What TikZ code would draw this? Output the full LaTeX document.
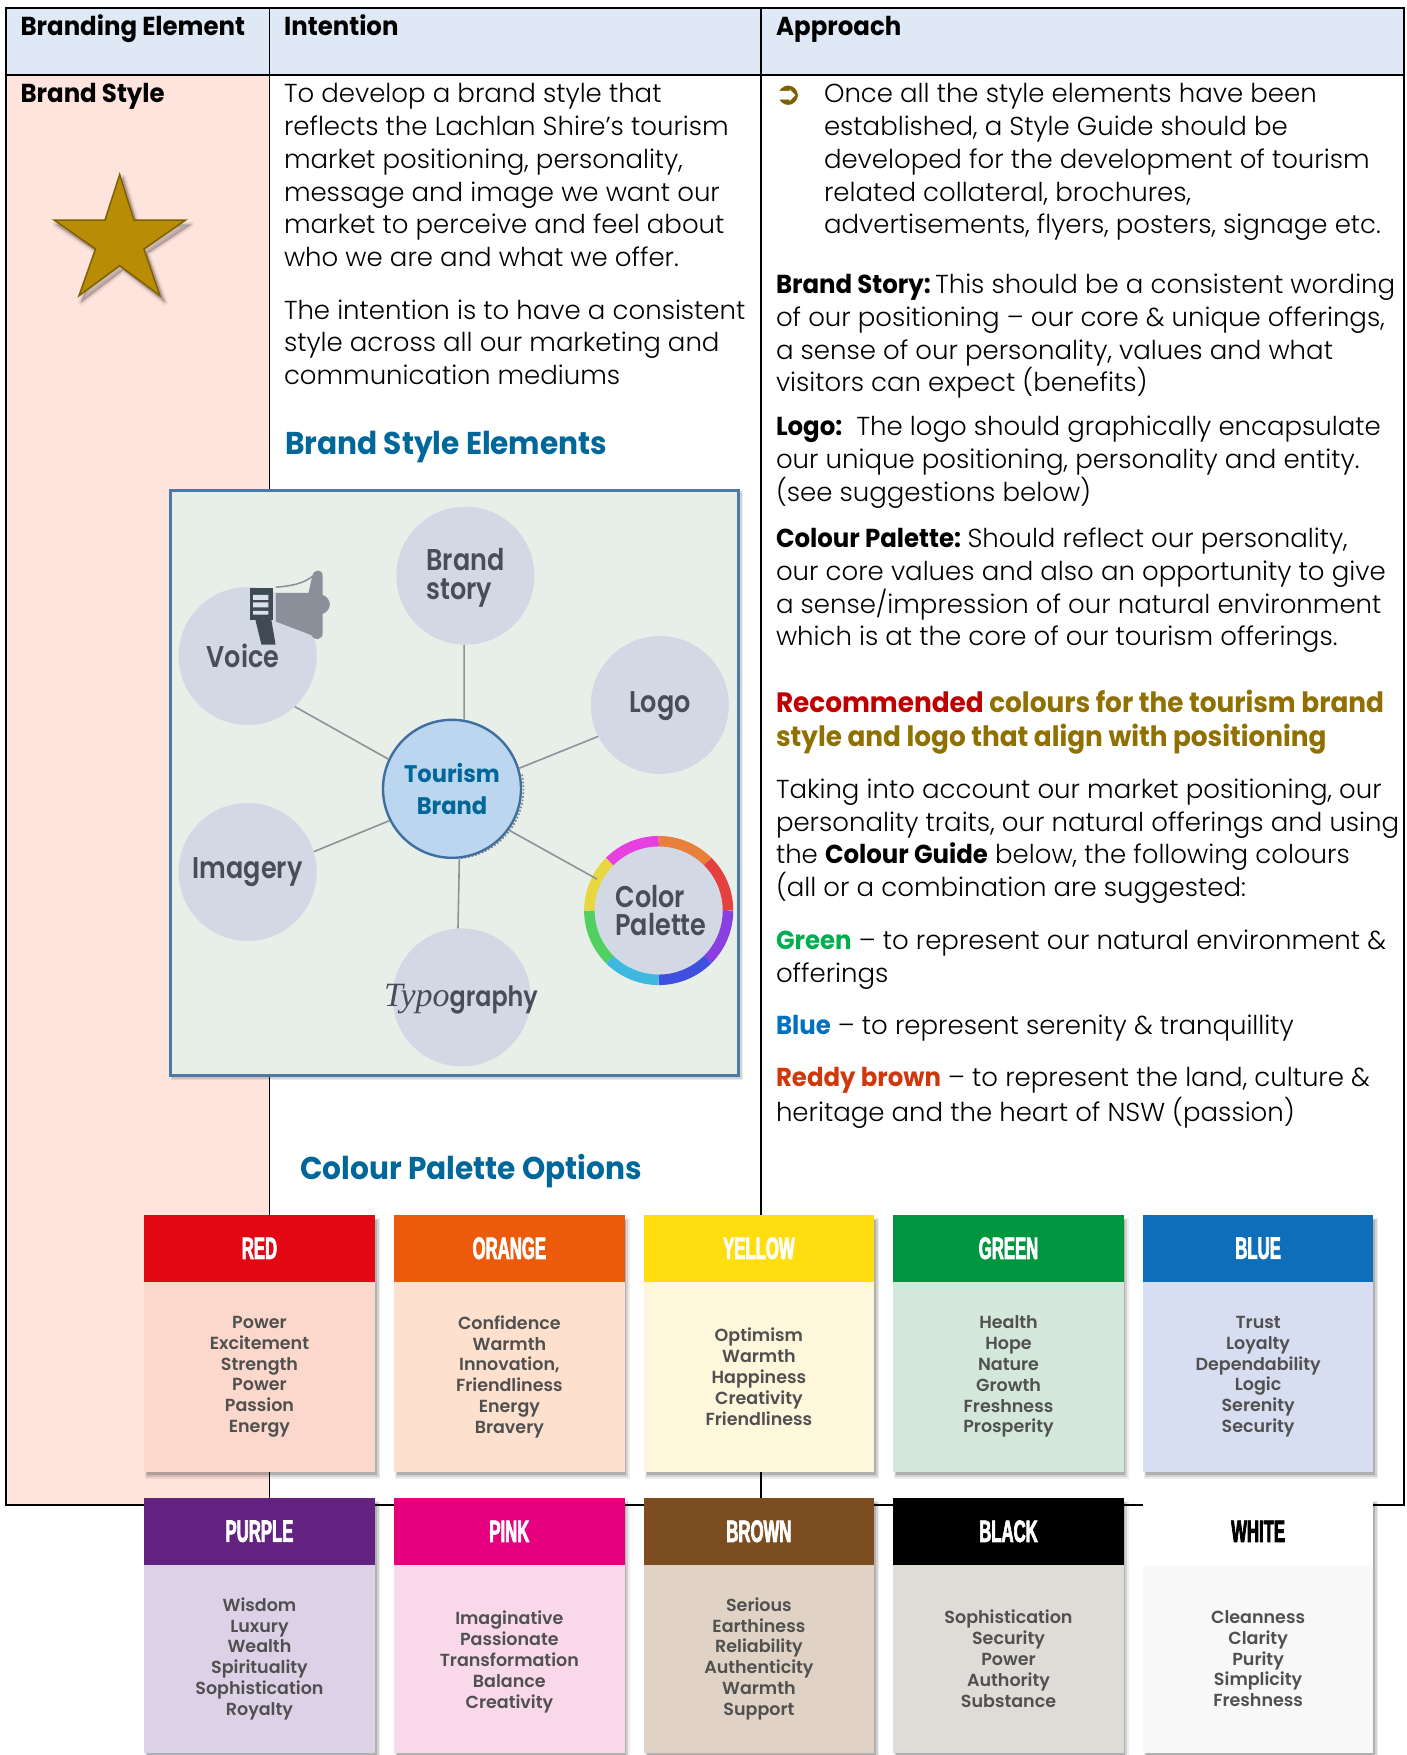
\documentclass[tikz,border=0pt]{standalone}
\usepackage{fontspec}
\setmainfont{Poppins Light}[FakeStretch=1.0,BoldFont={Poppins Bold},BoldFeatures={FakeStretch=0.94}]
\newfontfamily\headfont{Liberation Sans}[FakeStretch=0.54,BoldFeatures={FakeStretch=0.54,FakeBold=2.2}]
\newfontfamily\cardfont{Poppins SemiBold}
\newfontfamily\bubfont{Poppins SemiBold}[FakeStretch=0.85]
\newfontfamily\seriffnt{Liberation Serif}
\newfontfamily\dingfont{DejaVu Sans}[FakeBold=1.5]
\definecolor{headblue}{HTML}{DEE9F5}
\definecolor{rowpink}{HTML}{FFE3DD}
\definecolor{tealtitle}{HTML}{00679A}
\definecolor{goldtext}{HTML}{8F7000}
\definecolor{bulletgold}{HTML}{7F6000}
\definecolor{starfill}{HTML}{B88C05}
\definecolor{imgback}{HTML}{E8EEE8}
\definecolor{imgedge}{HTML}{4A7BA8}
\definecolor{bubfill}{HTML}{D3D8E5}
\definecolor{bubtext}{HTML}{474E5A}
\definecolor{spokecol}{HTML}{8D939B}
\definecolor{hubfill}{HTML}{BBD6EE}
\definecolor{hubedge}{HTML}{3E6FA0}
\definecolor{megadark}{HTML}{3F4A55}
\definecolor{megagray}{HTML}{8A8F9A}
\definecolor{cardtext}{HTML}{505050}
\tikzset{
  para/.style={anchor=north west,inner sep=0pt,outer sep=0pt,align=left,yshift=21.9pt,
    font=\fontsize{26}{32.7}\selectfont},
  headtxt/.style={anchor=base west,inner sep=0pt,font=\fontsize{26}{32.7}\selectfont\bfseries},
  bigtitle/.style={anchor=base west,inner sep=0pt,text=tealtitle,font=\fontsize{31.5}{38}\selectfont\bfseries},
  bub/.style={circle,fill=bubfill,inner sep=0pt,minimum size=138pt,text=bubtext,align=center,
    font=\fontsize{30}{28.5}\bubfont},
  bubtxt/.style={inner sep=0pt,text=bubtext,align=left,font=\fontsize{30}{28.5}\bubfont},
  spoke/.style={draw=spokecol,line width=1.6pt},
  cardhead/.style={inner sep=0pt,outer sep=0pt,font=\fontsize{31}{31}\headfont\bfseries},
  cardbody/.style={inner sep=0pt,outer sep=0pt,align=center,text=cardtext,font=\fontsize{17.5}{20.8}\cardfont},
  rule/.style={line width=1.6pt,black},
  boldrule/.style={line width=2.6pt,black},
}
\newcommand{\softshadow}[6]{%
  \fill[black,opacity=.07] (#1+#5-2,#2+#6-2) rectangle (#3+#5+2,#4+#6+2);
  \fill[black,opacity=.11] (#1+#5-1,#2+#6-1) rectangle (#3+#5+0.5,#4+#6+0.5);
  \fill[black,opacity=.16] (#1+#5,#2+#6) rectangle (#3+#5-1.5,#4+#6-1.5);
}
\newcommand{\colorcard}[8]{%
  \pgfmathsetmacro\cw{#3-#2}
  \pgfmathsetmacro\cm{(#2+#3)/2}
  \pgfmathsetmacro\bh{\cbot-\ctop-66.5}
  \pgfmathsetmacro\by{\ctop+66.5+\bh/2}
  \definecolor{#1hc}{HTML}{#4}
  \definecolor{#1bc}{HTML}{#5}
  \softshadow{#2}{\ctop}{#3}{\cbot}{3}{4.5}
  \node[cardhead,fill=#1hc,text=#6,minimum width=\cw pt,minimum height=66.5pt] (#1h) at (\cm,\ctop+33.25) {#7};
  \node[cardbody,fill=#1bc,minimum width=\cw pt,minimum height=\bh pt] (#1b) at (\cm,\by) {#8};
}
\newcommand{\topstrut}{\rule{0pt}{20pt}}
\begin{document}
\begin{tikzpicture}[x=1pt,y=-1pt]
\useasboundingbox (0,0) rectangle (1407,1755);
\fill[white] (0,0) rectangle (1407,1755);
% table
\fill[headblue] (6,8) rectangle (1404,75);
\fill[rowpink] (6,75) rectangle (269.5,1505);
\draw[rule] (6,8) -- (6,1505) -- (1404,1505) -- (1404,8);
\draw[boldrule] (4.5,8) -- (1405,8);
\draw[boldrule] (6,75) -- (1404,75);
\draw[rule] (269.5,8) -- (269.5,1505);
\draw[rule] (761,8) -- (761,1505);
% headers
\node[headtxt] (h1) at (20.4,36) {Branding Element};
\node[headtxt] (h2) at (284,36) {Intention};
\node[headtxt] (h3) at (776,36) {Approach};
\node[headtxt] (rowlabel) at (20.4,102.7) {Brand Style};
% star
\begin{scope}[shift={(3.5,4.5)}]
\foreach \op/\wd in {.05/6,.07/3,.09/0.5}
 \path[fill=black,draw=black,opacity=\op,line width=\wd pt,line join=round]
  (119.7,172.7) -- (134,220) -- (187.6,220) -- (144,249) -- (161.4,297.7) -- (119.7,265.7) -- (77.6,297.7) -- (95.5,249) -- (52,220) -- (105,220) -- cycle;
\end{scope}
\draw[fill=starfill,draw=bulletgold,line width=1.5pt,line join=miter]
  (119.7,174.5) -- (134,220) -- (185.6,220) -- (144,249) -- (160,295.7) -- (119.7,265.7) -- (79,295.7) -- (95.5,249) -- (54,220) -- (105,220) -- cycle;
% intention column
\node[para] (i1) at (284,102) {\strut To develop a brand style that\\reflects the Lachlan Shire’s tourism\\market positioning, personality,\\message and image we want our\\market to perceive and feel about\\who we are and what we offer.};
\node[para] (i2) at (284,318.3) {\strut The intention is to have a consistent\\style across all our marketing and\\communication mediums};
\node[bigtitle] (t1) at (285,454) {Brand Style Elements};
\node[bigtitle] (t2) at (300,1179) {Colour Palette Options};
% approach column
\node[anchor=base west,inner sep=0pt,text=bulletgold,font=\fontsize{31}{31}\dingfont] (bul) at (775,104) {➲};
\node[para] (a1) at (824,102) {\strut Once all the style elements have been\\established, a Style Guide should be\\developed for the development of tourism\\related collateral, brochures,\\advertisements, flyers, posters, signage etc.};
\node[para] (a2) at (776,292.7) {\strut \textbf{Brand Story:}\hspace{-5pt} This should be a consistent wording\\of our positioning – our core \& unique offerings,\\a sense of our personality, values and what\\visitors can expect (benefits)};
\node[para] (a3) at (776,435) {\strut \textbf{Logo:}\ \ The logo should graphically encapsulate\\our unique positioning, personality and entity.\\(see suggestions below)};
\node[para] (a4) at (776,546.8) {\strut \textbf{Colour Palette:}\hspace{-3pt} Should reflect our personality,\\our core values and also an opportunity to give\\a sense/impression of our natural environment\\which is at the core of our tourism offerings.};
\node[para,font=\fontsize{28}{33.6}\selectfont\bfseries] (a5) at (776,711.3) {\strut\textcolor[HTML]{C00000}{Recommended} \textcolor{goldtext}{colours for the tourism brand}\\\textcolor{goldtext}{style and logo that align with positioning}};
\node[para] (a6) at (776,797.5) {\strut Taking into account our market positioning, our\\personality traits, our natural offerings and using\\the \textbf{Colour Guide} below, the following colours\\(all or a combination are suggested:};
\node[para] (a7) at (776,948.6) {\strut \textcolor[HTML]{00B050}{\textbf{Green}} – to represent our natural environment \&\\offerings};
\node[para] (a8) at (776,1033.7) {\strut \textcolor[HTML]{0070C0}{\textbf{Blue}} – to represent serenity \& tranquillity};
\node[para] (a9) at (776,1085) {\strut \textcolor[HTML]{D0380C}{\textbf{Reddy brown}} – to represent the land, culture \&\\heritage and the heart of NSW (passion)};
% brand style image
\softshadow{170.3}{490}{738}{1075}{3}{3}
\draw[fill=imgback,draw=imgedge,line width=3pt] (170.3,490) rectangle (738,1075);
\node[bub] (voice) at (247.6,656) {};
\node[bubtxt] (voicetext) at (243,656) {Voice};
\node[bub] (story) at (465.4,575.7) {};
\node[bubtxt] (storytext) at (465.5,577.7) {Brand\\story};
\node[bub] (logo) at (659.8,705) {};
\node[bubtxt] (logotext) at (659.8,706) {Logo};
\node[bub] (imagery) at (247.6,871.9) {Imagery};
\node[bub] (typo) at (461.6,997.4) {};
\node[bub] (palette) at (658.7,910.5) {};
\node[bubtxt] (palettetext) at (661,910.5) {Color\\Palette};
\node[anchor=base,inner sep=0pt,text=bubtext,font=\fontsize{28}{28}\bubfont] (typotext) at (461,1006) {{\fontsize{34}{34}\seriffnt\itshape Typo}graphy};
\foreach \a/\b/\c in {90/45/E8803C,45/0/E54040,0/-45/8A3FE0,-45/-90/3F4FE0,-90/-135/3FB8E0,-135/-180/4FD060,180/135/E8D840,135/90/E840E0}{
  \definecolor{ringc}{HTML}{\c}
  \draw[line width=10.5pt,ringc] (palette.center) ++(-\a:69.3) arc[start angle=-\a,end angle=-\b,radius=69.3];
}
\draw[gray,dotted,line width=1.6pt] (454,789)++(-12:69.5) arc[start angle=-12,end angle=85,radius=69.5];
\node[circle,draw=hubedge,fill=hubfill,line width=2.4pt,inner sep=0pt,minimum size=138pt,align=center,text=tealtitle,
  font=\fontsize{24}{31.5}\selectfont\bfseries] (hub) at (452,788.8) {Tourism\\Brand};
\draw[spoke] (hub.80.8) -- (story.269);
\draw[spoke] (hub.155.4) -- (voice.313.5);
\draw[spoke] (hub.17.4) -- (logo.207);
\draw[spoke] (hub.207.4) -- (imagery.17.3);
\draw[spoke] (hub.276.3) -- (typo.93);
\draw[spoke] (hub.-36) -- (palette.153);
% megaphone
\begin{scope}[shift={(160,480)},x=0.3827pt,y=-0.3827pt]
\fill[megagray] (303,295) -- (388,295) -- (398,250) .. controls (402,232) and (425,232) .. (425,250) -- (425,300) .. controls (450,310) and (450,340) .. (425,350) -- (425,400) .. controls (425,420) and (400,420) .. (395,405) -- (303,370) -- cycle;
\draw[megagray,line width=1.5pt] (303,280) .. controls (345,277) and (375,270) .. (398,252);
\fill[megadark] (248,360) -- (290,360) -- (302,430) -- (265,430) -- cycle;
\fill[megadark] (234,282) rectangle (295,365);
\fill[bubfill!80!white] (243,300) rectangle (283,313) (243,320) rectangle (283,333) (243,342) rectangle (283,352);
\end{scope}
% cards
\def\ctop{1215}\def\cbot{1472}
\colorcard{red}{143.9}{375}{E30613}{FBD8CB}{white}{RED}{Power\\Excitement\\Strength\\Power\\Passion\\Energy}
\colorcard{orange}{394}{624.7}{EC5A0B}{FDE0CD}{white}{ORANGE}{Confidence\\Warmth\\Innovation,\\Friendliness\\Energy\\Bravery}
\colorcard{yellow}{643.5}{874.3}{FFDD0F}{FEF7DC}{white}{YELLOW}{Optimism\\Warmth\\Happiness\\Creativity\\Friendliness}
\colorcard{green}{893.2}{1123.8}{009640}{D3E8DA}{white}{GREEN}{Health\\Hope\\Nature\\Growth\\Freshness\\Prosperity}
\colorcard{blue}{1142.8}{1373.4}{0F6EBA}{D8DEF2}{white}{BLUE}{Trust\\Loyalty\\Dependability\\Logic\\Serenity\\Security}
\def\ctop{1498}\def\cbot{1753}
\colorcard{purple}{143.9}{375}{632180}{DDD1E7}{white}{PURPLE}{Wisdom\\Luxury\\Wealth\\Spirituality\\Sophistication\\Royalty}
\colorcard{pink}{394}{624.7}{E6007E}{F9D9E9}{white}{PINK}{\topstrut Imaginative\\Passionate\\Transformation\\Balance\\Creativity}
\colorcard{brown}{643.5}{874.3}{7B4D21}{E0D3C5}{white}{BROWN}{Serious\\Earthiness\\Reliability\\Authenticity\\Warmth\\Support}
\colorcard{black}{893.2}{1123.8}{000000}{DFDCD7}{white}{BLACK}{Sophistication\\Security\\Power\\Authority\\Substance}
\colorcard{white}{1142.8}{1373.4}{FFFFFF}{F8F8F8}{black}{WHITE}{Cleanness\\Clarity\\Purity\\Simplicity\\Freshness}
\end{tikzpicture}
\end{document}
